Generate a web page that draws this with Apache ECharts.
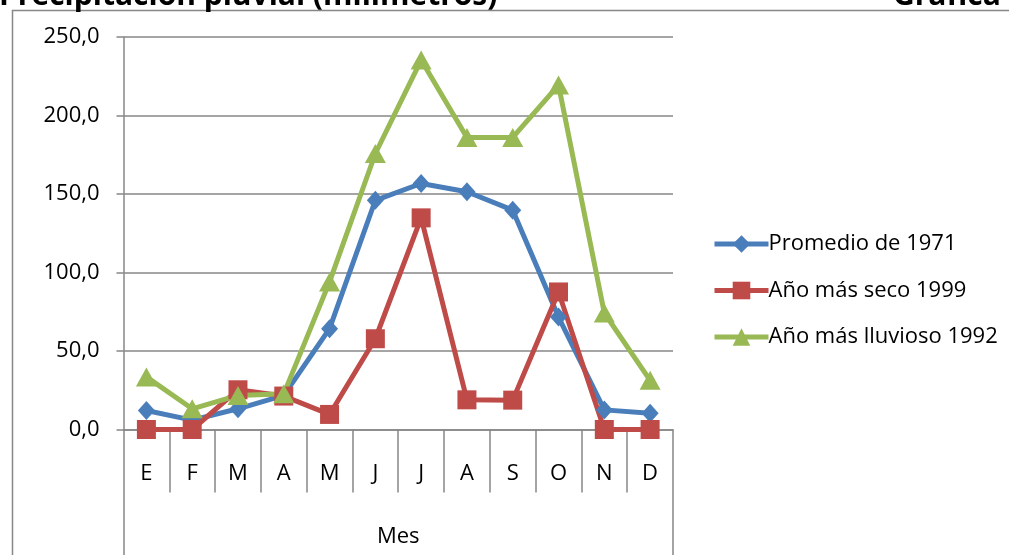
<!DOCTYPE html>
<html>
<head>
<meta charset="utf-8">
<script src="https://cdn.jsdelivr.net/npm/echarts@6/dist/echarts.min.js"></script>
<style>
  html, body { margin: 0; padding: 0; background: #ffffff; }
  #chart { width: 1009px; height: 555px; }
</style>
</head>
<body>
<div id="chart"></div>
<script>
// Months (first letter) and monthly rainfall in millimetres
const meses = ['E', 'F', 'M', 'A', 'M', 'J', 'J', 'A', 'S', 'O', 'N', 'D'];
const promedio1971 = [12.1, 6.0, 13.2, 21.7, 64.2, 146.0, 156.7, 151.4, 139.7, 71.6, 12.5, 10.4];
const seco1999 = [0, 0, 25.3, 21.3, 9.6, 57.8, 134.8, 18.9, 18.7, 87.6, 0, 0];
const lluvioso1992 = [33.5, 13.2, 21.7, 22.7, 94.0, 175.8, 235.3, 186.0, 186.0, 219.4, 74.2, 31.3];
const nombresSeries = ['Promedio de 1971', 'Año más seco 1999', 'Año más lluvioso 1992'];
const tituloGrupo = 'Mes';

const FONT = '"Open Sans", "Liberation Sans", sans-serif';
const GRIS = '#878787';

const chart = echarts.init(document.getElementById('chart'), null, { renderer: 'canvas' });

function serie(name, data, color, symbol, size) {
  return {
    name: name,
    type: 'line',
    data: data,
    xAxisIndex: 0,
    symbol: symbol,
    symbolSize: size,
    showSymbol: true,
    lineStyle: { color: color, width: 5 },
    itemStyle: { color: color },
    emphasis: { disabled: true },
    animation: false
  };
}

chart.setOption({
  animation: false,
  backgroundColor: '#ffffff',
  textStyle: { fontFamily: FONT },
  graphic: [
    {
      type: 'polyline',
      shape: { points: [[12.5, 560], [12.5, 10.5], [1015, 10.5]] },
      style: { stroke: GRIS, lineWidth: 1.5, fill: null },
      silent: true
    },
    {
      type: 'text',
      x: -1, y: -4,
      style: {
        text: 'Precipitación pluvial (milímetros)',
        font: 'bold 30px ' + FONT,
        fill: '#000000',
        verticalAlign: 'middle'
      },
      silent: true
    },
    {
      type: 'text',
      x: 893, y: -4,
      style: {
        text: 'Gráfica',
        font: 'bold 30px ' + FONT,
        fill: '#000000',
        verticalAlign: 'middle'
      },
      silent: true
    }
  ],
  legend: {
    orient: 'vertical',
    left: 712,
    top: 233,
    padding: 0,
    itemWidth: 54,
    itemHeight: 22,
    itemGap: 24.5,
    lineStyle: { width: 5 },
    textStyle: { fontSize: 22, color: '#000000', fontFamily: FONT, padding: [0, 0, 0, -5] },
    data: nombresSeries
  },
  grid: {
    left: 123.5,
    right: 336,
    top: 37,
    bottom: 125.5,
    containLabel: false
  },
  xAxis: [
    {
      type: 'category',
      data: meses,
      position: 'bottom',
      offset: 0,
      boundaryGap: true,
      axisLine: { show: true, lineStyle: { color: GRIS, width: 1.5 } },
      axisTick: { show: true, interval: 0, length: 63, lineStyle: { color: GRIS, width: 1.5 } },
      axisLabel: { interval: 0, fontSize: 22, color: '#000000', margin: 33, fontFamily: FONT },
      splitLine: { show: false }
    },
    {
      type: 'category',
      data: [tituloGrupo],
      position: 'bottom',
      offset: 0,
      boundaryGap: true,
      axisLine: { show: false },
      axisTick: { show: true, interval: 0, length: 130, lineStyle: { color: GRIS, width: 1.5 } },
      axisLabel: { fontSize: 22, color: '#000000', margin: 96, fontFamily: FONT },
      splitLine: { show: false }
    }
  ],
  yAxis: {
    type: 'value',
    min: 0,
    max: 250,
    interval: 50,
    axisLine: { show: true, lineStyle: { color: GRIS, width: 1.5 } },
    axisTick: { show: true, length: 7, lineStyle: { color: GRIS, width: 1.5 } },
    axisLabel: {
      fontSize: 22,
      color: '#000000',
      margin: 24,
      fontFamily: FONT,
      formatter: v => v.toFixed(1).replace('.', ',')
    },
    splitLine: { show: true, lineStyle: { color: GRIS, width: 1.5 } }
  },
  series: [
    serie(nombresSeries[0], promedio1971, '#4A7EBB', 'diamond', [17, 19]),
    serie(nombresSeries[1], seco1999, '#BE4B48', 'rect', 19),
    serie(nombresSeries[2], lluvioso1992, '#98B954', 'triangle', [21, 19])
  ]
});
</script>
</body>
</html>
